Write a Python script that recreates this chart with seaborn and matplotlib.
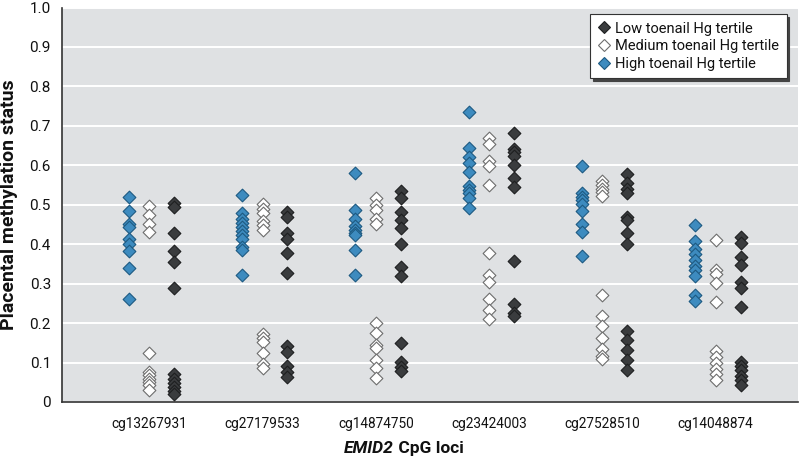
import numpy as np
import pandas as pd
import matplotlib
matplotlib.use("Agg")
import matplotlib.pyplot as plt
import seaborn as sns
from matplotlib.lines import Line2D

loci = ["cg13267931", "cg27179533", "cg14874750", "cg23424003", "cg27528510", "cg14048874"]

high_vals = [
    [0.519, 0.484, 0.451, 0.443, 0.413, 0.401, 0.384, 0.339, 0.262],
    [0.524, 0.478, 0.465, 0.454, 0.444, 0.434, 0.423, 0.412, 0.393, 0.385, 0.321],
    [0.581, 0.486, 0.465, 0.445, 0.437, 0.429, 0.423, 0.386, 0.323],
    [0.736, 0.644, 0.622, 0.607, 0.584, 0.548, 0.537, 0.529, 0.517, 0.493],
    [0.597, 0.530, 0.520, 0.511, 0.503, 0.484, 0.451, 0.431, 0.369],
    [0.449, 0.409, 0.388, 0.374, 0.360, 0.346, 0.335, 0.320, 0.270, 0.257],
]
medium_vals = [
    [0.498, 0.475, 0.451, 0.430, 0.125, 0.076, 0.068, 0.059, 0.051, 0.042, 0.031],
    [0.501, 0.490, 0.478, 0.459, 0.448, 0.435, 0.172, 0.163, 0.152, 0.123, 0.097, 0.085],
    [0.516, 0.499, 0.486, 0.465, 0.452, 0.200, 0.175, 0.144, 0.138, 0.106, 0.085, 0.062],
    [0.670, 0.654, 0.610, 0.599, 0.551, 0.377, 0.321, 0.304, 0.262, 0.234, 0.211],
    [0.560, 0.551, 0.541, 0.533, 0.522, 0.270, 0.217, 0.192, 0.163, 0.135, 0.116, 0.110],
    [0.411, 0.335, 0.325, 0.301, 0.253, 0.129, 0.114, 0.099, 0.084, 0.072, 0.055],
]
low_vals = [
    [0.504, 0.494, 0.429, 0.384, 0.354, 0.289, 0.072, 0.059, 0.048, 0.038, 0.028, 0.019],
    [0.482, 0.469, 0.429, 0.412, 0.378, 0.327, 0.141, 0.127, 0.090, 0.076, 0.063],
    [0.535, 0.518, 0.482, 0.461, 0.442, 0.400, 0.342, 0.319, 0.150, 0.101, 0.089, 0.079],
    [0.683, 0.641, 0.633, 0.624, 0.601, 0.568, 0.544, 0.358, 0.249, 0.225, 0.217],
    [0.577, 0.554, 0.541, 0.530, 0.469, 0.461, 0.429, 0.400, 0.180, 0.156, 0.133, 0.106, 0.080],
    [0.419, 0.402, 0.368, 0.348, 0.304, 0.289, 0.240, 0.101, 0.090, 0.080, 0.067, 0.055, 0.042],
]
tertiles = ["Low toenail Hg tertile", "Medium toenail Hg tertile", "High toenail Hg tertile"]
y_ticks = [0, 0.1, 0.2, 0.3, 0.4, 0.5, 0.6, 0.7, 0.8, 0.9, 1.0]
y_tick_labels = ["0", "0.1", "0.2", "0.3", "0.4", "0.5", "0.6", "0.7", "0.8", "0.9", "1.0"]

# styles
offsets = {tertiles[0]: 0.22, tertiles[1]: 0.0, tertiles[2]: -0.18}
face = {tertiles[0]: "#3a3c3e", tertiles[1]: "#ffffff", tertiles[2]: "#3d8bbf"}
edge = {tertiles[0]: "#1e1f20", tertiles[1]: "#6e6e6e", tertiles[2]: "#1d5a82"}

rows = []
for series, name in zip([low_vals, medium_vals, high_vals], tertiles):
    for i, locus in enumerate(loci):
        for v in series[i]:
            rows.append({"locus": locus, "idx": i, "tertile": name, "value": v})
df = pd.DataFrame(rows)
df["xpos"] = df["idx"] + df["tertile"].map(offsets)

sns.set_theme(style="white")
FONT = ["Roboto", "DejaVu Sans"]
plt.rcParams["font.family"] = FONT

fig = plt.figure(figsize=(8, 4.7), dpi=100)
ax = fig.add_axes([0.0775, 0.1447, 0.9205, 0.8393])
ax.set_facecolor("#dfe1e3")

for name in [tertiles[2], tertiles[1], tertiles[0]]:
    sub = df[df["tertile"] == name]
    sns.scatterplot(data=sub, x="xpos", y="value", marker="D", s=42,
                    color=face[name], edgecolor=edge[name], linewidth=0.8,
                    ax=ax, legend=False, zorder=3)

ax.set_ylim(0, 1.0)
ax.set_xlim(-0.77, 5.73)
ax.set_yticks(y_ticks)
ax.set_yticklabels(y_tick_labels)
ax.set_xticks(range(len(loci)))
ax.set_xticklabels(loci)
ax.yaxis.grid(True, color="white", linewidth=1.4, zorder=0)
ax.set_axisbelow(True)
for s in ["top", "right"]:
    ax.spines[s].set_visible(False)
ax.spines["left"].set_color("#333333")
ax.spines["bottom"].set_color("#333333")
ax.spines["left"].set_linewidth(1.2)
ax.spines["bottom"].set_linewidth(1.2)
ax.tick_params(axis="y", length=0, labelsize=11, pad=8, colors="#111111")
ax.tick_params(axis="x", length=5, width=0.8, color="#888888", direction="out",
               labelsize=9.8, pad=6, labelcolor="#111111")
ax.set_xlabel("")
ax.set_ylabel("Placental methylation status", fontsize=14, fontweight="bold",
              labelpad=8, color="#111111")

fig.text(0.492, 0.03, "EMID2", ha="right", va="bottom", fontsize=12.5,
         fontweight="bold", style="italic", family=FONT, color="#111111")
fig.text(0.492, 0.03, " CpG loci", ha="left", va="bottom", fontsize=12.5,
         fontweight="bold", family=FONT, color="#111111")

handles = [Line2D([], [], marker="D", linestyle="none", markersize=6.5,
                  markerfacecolor=face[n], markeredgecolor=edge[n], markeredgewidth=0.8)
           for n in tertiles]
leg = ax.legend(handles, tertiles, loc="upper right", bbox_to_anchor=(0.984, 0.983),
                fontsize=10.5, frameon=True, fancybox=False, shadow={"color": "#444444", "alpha": 1},
                borderpad=0.5, handletextpad=0.25, labelspacing=0.25, handlelength=1.0,
                borderaxespad=0)
leg.get_frame().set_edgecolor("#333333")
leg.get_frame().set_linewidth(0.8)
for t in leg.get_texts():
    t.set_color("#111111")

fig.savefig("out.png", dpi=100)
